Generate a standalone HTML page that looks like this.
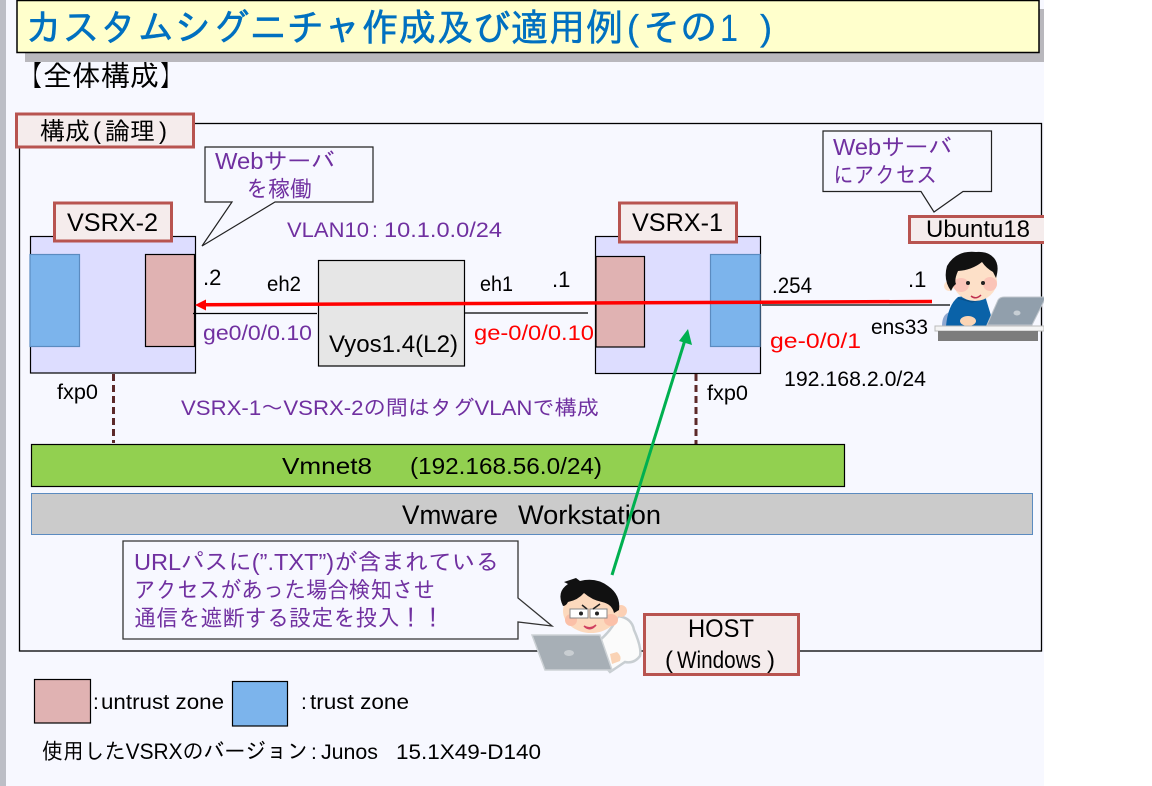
<!DOCTYPE html>
<html><head><meta charset="utf-8"><style>
html,body{margin:0;padding:0;background:#fff;width:1152px;height:786px;overflow:hidden}
svg{display:block}
text{font-family:"Liberation Sans","IPAGothic","Noto Sans CJK JP",sans-serif;fill:#000;font-size:20px;white-space:pre}
.p{fill:#7030a0}.r{fill:#f00}.t{fill:#0070c0;font-size:38px}
</style></head><body>
<svg width="1152" height="786" viewBox="0 0 1152 786" xmlns="http://www.w3.org/2000/svg">
<defs><clipPath id="c"><rect x="0" y="0" width="1044" height="786"/></clipPath></defs>
<g clip-path="url(#c)">
<rect width="1044" height="786" fill="#f7f8ff"/>
<rect width="6" height="786" fill="#bcbec6"/>
<rect x="25" y="9" width="1019" height="53" fill="#b9b8bd"/>
<rect x="17" y="0.5" width="1022" height="52" fill="#ffffcc" stroke="#000" stroke-width="1.5"/>
<text class="t" x="25" y="41" textLength="598" lengthAdjust="spacingAndGlyphs" stroke="#0070c0" stroke-width="0.5">カスタムシグニチャ作成及び適用例</text>
<text class="t" x="627" y="40" style="font-size:36px" stroke="#0070c0" stroke-width="0.3">(</text>
<text class="t" x="643" y="41" textLength="74" lengthAdjust="spacingAndGlyphs" stroke="#0070c0" stroke-width="0.5">その</text>
<text class="t" x="720" y="41" textLength="18" lengthAdjust="spacingAndGlyphs">1</text>
<text class="t" x="760" y="40" style="font-size:36px" stroke="#0070c0" stroke-width="0.3">)</text>
<text x="14" y="86" style="font-size:29px" textLength="174" lengthAdjust="spacingAndGlyphs">【全体構成】</text>

<rect x="19.5" y="123.5" width="1022" height="527.5" fill="#f7f8ff" stroke="#000" stroke-width="1.3"/>
<rect x="16.5" y="114" width="177" height="33" fill="#f5ecec" stroke="#b85450" stroke-width="3"/>
<text x="40" y="140" style="font-size:25px" textLength="50" lengthAdjust="spacingAndGlyphs">構成</text>
<text x="93" y="139" style="font-size:24px">(</text>
<text x="105" y="140" style="font-size:25px" textLength="50" lengthAdjust="spacingAndGlyphs">論理</text>
<text x="159" y="139" style="font-size:24px">)</text>

<path d="M205 147H373V202H275L202 246L232 202H205Z" fill="#f7f8ff" stroke="#222" stroke-width="1.2"/>
<text class="p" x="215" y="169" style="font-size:23px" textLength="120" lengthAdjust="spacingAndGlyphs">Webサーバ</text>
<text class="p" x="246" y="197" style="font-size:23px" textLength="66" lengthAdjust="spacingAndGlyphs">を稼働</text>

<path d="M823 131H991.5V191.5H963L934 212L921 191.5H823Z" fill="#f7f8ff" stroke="#222" stroke-width="1.2"/>
<text class="p" x="833" y="155" style="font-size:23px" textLength="119" lengthAdjust="spacingAndGlyphs">Webサーバ</text>
<text class="p" x="833" y="183" style="font-size:23px" textLength="104" lengthAdjust="spacingAndGlyphs">にアクセス</text>

<!-- VSRX-2 -->
<rect x="30.5" y="236.5" width="165" height="136.5" fill="#ddddff" stroke="#000" stroke-width="1.2"/>
<rect x="30" y="254.5" width="49.5" height="92" fill="#7cb4ec" stroke="#5b8bc0" stroke-width="1.2"/>
<rect x="145.5" y="254.5" width="49" height="92" fill="#e0b2b2" stroke="#000" stroke-width="1.2"/>
<rect x="54.5" y="203" width="117" height="38" fill="#f5ecec" stroke="#b85450" stroke-width="3"/>
<text x="67" y="231" style="font-size:25px" textLength="91" lengthAdjust="spacingAndGlyphs">VSRX-2</text>

<!-- VSRX-1 -->
<rect x="595.5" y="236.5" width="165" height="137" fill="#ddddff" stroke="#000" stroke-width="1.2"/>
<rect x="596" y="256.5" width="48.5" height="90.5" fill="#e0b2b2" stroke="#000" stroke-width="1.2"/>
<rect x="710.5" y="254.5" width="49.5" height="92" fill="#7cb4ec" stroke="#5b8bc0" stroke-width="1.2"/>
<rect x="619.5" y="203" width="117" height="39" fill="#f5ecec" stroke="#b85450" stroke-width="3"/>
<text x="632" y="231" style="font-size:25px" textLength="91" lengthAdjust="spacingAndGlyphs">VSRX-1</text>

<!-- Vyos -->
<rect x="318.5" y="260.5" width="146" height="105.5" fill="#e6e6e6" stroke="#000" stroke-width="1.2"/>
<text x="329" y="352" style="font-size:24px" textLength="129" lengthAdjust="spacingAndGlyphs">Vyos1.4(L2)</text>

<path d="M193 313.5H317M465 313H588M762 305H950" stroke="#000" stroke-width="1.3" fill="none"/>

<path d="M932 301.5L203 304.7" stroke="#f00" stroke-width="3.5" fill="none"/>
<path d="M195 305L206 299.5V310.5Z" fill="#f00"/>

<path d="M113.5 374V443M696 374V444" stroke="#5c2a2a" stroke-width="3" stroke-dasharray="7 4" fill="none"/>

<rect x="31.5" y="444.5" width="813" height="42" fill="#92d050" stroke="#000" stroke-width="1.2"/>
<text x="282" y="474" style="font-size:23px" textLength="90" lengthAdjust="spacingAndGlyphs">Vmnet8</text>
<text x="410" y="474" style="font-size:23px" textLength="192" lengthAdjust="spacingAndGlyphs">(192.168.56.0/24)</text>
<rect x="31.5" y="493.5" width="1001" height="41" fill="#cbcbcb" stroke="#5b8bc0" stroke-width="1"/>
<text x="402" y="524" style="font-size:27px" textLength="96" lengthAdjust="spacingAndGlyphs">Vmware</text>
<text x="518" y="524" style="font-size:27px" textLength="143" lengthAdjust="spacingAndGlyphs">Workstation</text>

<!-- labels -->
<text class="p" x="287" y="237" style="font-size:21px" textLength="82" lengthAdjust="spacingAndGlyphs">VLAN10</text>
<text class="p" x="372" y="237" style="font-size:21px">:</text>
<text class="p" x="384" y="237" style="font-size:21px" textLength="118" lengthAdjust="spacingAndGlyphs">10.1.0.0/24</text>
<text x="203" y="285" style="font-size:22px">.2</text>
<text x="267" y="291" style="font-size:21px" textLength="34" lengthAdjust="spacingAndGlyphs">eh2</text>
<text x="480" y="291" style="font-size:21px" textLength="33" lengthAdjust="spacingAndGlyphs">eh1</text>
<text x="552" y="287" style="font-size:22px">.1</text>
<text x="772" y="293" style="font-size:22px" textLength="40" lengthAdjust="spacingAndGlyphs">.254</text>
<text x="908" y="287" style="font-size:22px">.1</text>
<text x="871" y="334" style="font-size:21px" textLength="57" lengthAdjust="spacingAndGlyphs">ens33</text>
<text class="p" x="203" y="340" style="font-size:21px" textLength="109" lengthAdjust="spacingAndGlyphs">ge0/0/0.10</text>
<text class="r" x="474" y="340" style="font-size:21px" textLength="120" lengthAdjust="spacingAndGlyphs">ge-0/0/0.10</text>
<text class="r" x="770" y="348" style="font-size:21px" textLength="91" lengthAdjust="spacingAndGlyphs">ge-0/0/1</text>
<text x="784" y="386" style="font-size:21px" textLength="142" lengthAdjust="spacingAndGlyphs">192.168.2.0/24</text>
<text x="57" y="399" style="font-size:21px" textLength="41" lengthAdjust="spacingAndGlyphs">fxp0</text>
<text x="707" y="400" style="font-size:21px" textLength="41" lengthAdjust="spacingAndGlyphs">fxp0</text>
<text class="p" x="181" y="415" style="font-size:21px" textLength="418" lengthAdjust="spacingAndGlyphs">VSRX-1～VSRX-2の間はタグVLANで構成</text>

<!-- URL callout -->
<path d="M123 541H518V598L552 626L518 622V639H123Z" fill="#f7f8ff" stroke="#333" stroke-width="1.3"/>
<text class="p" x="134" y="570" style="font-size:23px" textLength="365" lengthAdjust="spacingAndGlyphs">URLパスに(”.TXT”)が含まれている</text>
<text class="p" x="134" y="598" style="font-size:23px" textLength="301" lengthAdjust="spacingAndGlyphs">アクセスがあった場合検知させ</text>
<text class="p" x="134" y="626" style="font-size:23px" textLength="310" lengthAdjust="spacingAndGlyphs">通信を遮断する設定を投入！！</text>

<!-- green arrow -->
<path d="M612 575L685 340" stroke="#00b050" stroke-width="3" fill="none"/>
<path d="M688 329L679 341L692 345Z" fill="#00b050"/>

<!-- Ubuntu person -->
<path d="M942 326Q942 314 950 312L954 326Z" fill="#8fa8d0"/>
<path d="M946 326Q948 305 958 297L972 295L986 299Q990 312 994 326Z" fill="#0a62a8"/>
<path d="M958 298L972 302L986 298" stroke="#084f88" stroke-width="1.2" fill="none"/>
<circle cx="949" cy="286" r="5" fill="#fde0c8"/>
<ellipse cx="975" cy="281" rx="22" ry="20" fill="#fde0c8"/>
<ellipse cx="961" cy="285" rx="8" ry="7" fill="#fbc4b8"/><ellipse cx="990" cy="284" rx="7" ry="7" fill="#fbc4b8"/>
<path d="M951 291Q943 280 947 266Q956 250 976 252Q988 251 994 258Q1000 265 996 278L993 272Q986 268 982 262Q972 270 958 271Q954 280 956 284Q953 286 951 291Z" fill="#111"/>
<circle cx="968" cy="283" r="2" fill="#222"/><circle cx="983" cy="283" r="2" fill="#222"/>
<path d="M971 296Q976 300 981 295" stroke="#c03050" stroke-width="1.5" fill="none"/>
<ellipse cx="968" cy="321" rx="8" ry="5" fill="#fbd5b5"/>
<path d="M987 325L998 300Q1000 297 1004 297H1046L1032 325Z" fill="#919fac" stroke="#c0c6cc" stroke-width="1"/>
<ellipse cx="1017" cy="313" rx="3.5" ry="2.5" fill="#c7ced4"/>
<rect x="935" y="326" width="109" height="5" fill="#f4f4f4" stroke="#bbb" stroke-width="1"/>
<rect x="938" y="331" width="100" height="10" fill="#7c7c7c"/>

<!-- Host person -->
<path d="M600 640Q612 630 618 616Q632 618 634 630Q642 648 640 656Q634 664 625 662L610 672L600 660Z" fill="#fbfbfb" stroke="#c8ced2" stroke-width="2.5"/>
<circle cx="621" cy="611" r="6" fill="#fcd0b5"/>
<ellipse cx="591" cy="611" rx="28" ry="22" fill="#fcd9bd"/>
<ellipse cx="611" cy="620" rx="7" ry="6" fill="#fbc0a8"/><ellipse cx="571" cy="620" rx="6" ry="6" fill="#fbc0a8"/>
<path d="M563 606Q556 592 568 584L564 582L576 578L580 581Q596 577 608 586Q621 595 619 610L614 613Q612 604 602 602Q592 600 584 593Q578 600 568 602Q566 606 563 606Z" fill="#111"/>
<rect x="570" y="609" width="18" height="9" fill="#fff" stroke="#888" stroke-width="1"/><rect x="590" y="609" width="17" height="9" fill="#fff" stroke="#888" stroke-width="1"/>
<circle cx="581" cy="613.5" r="2" fill="#222"/><circle cx="597" cy="613.5" r="2" fill="#222"/>
<path d="M582 605L587 609M600 604L593 609" stroke="#222" stroke-width="1.5"/>
<path d="M584 626Q590 630 596 625Q590 632 584 626Z" fill="#e06070" stroke="#d04060" stroke-width="1.5"/>
<path d="M532 635L600 635L612 670H545Z" fill="#a7afb6" stroke="#cdd2d6" stroke-width="1.5"/>
<ellipse cx="569" cy="653" rx="5" ry="3" fill="#c9ced2"/>
<path d="M610 654L617 652Q622 656 620 661L612 664Z" fill="#fad3b5"/>

<rect x="644.5" y="614.5" width="154" height="60" fill="#f5ecec" stroke="#b85450" stroke-width="3"/>
<text x="688" y="637" style="font-size:25px" textLength="66" lengthAdjust="spacingAndGlyphs">HOST</text>
<text x="665" y="668" style="font-size:24px">(</text>
<text x="677" y="668" style="font-size:24px" textLength="84" lengthAdjust="spacingAndGlyphs">Windows</text>
<text x="767" y="668" style="font-size:24px">)</text>

<rect x="909.5" y="216.5" width="140" height="26" fill="#f5ecec" stroke="#b85450" stroke-width="3"/>
<text x="926" y="237" style="font-size:24px" textLength="104" lengthAdjust="spacingAndGlyphs">Ubuntu18</text>

<!-- legend -->
<rect x="34.5" y="679.5" width="56" height="43.5" fill="#e0b2b2" stroke="#000" stroke-width="1.2"/>
<text x="93" y="709" style="font-size:21px">:</text>
<text x="101" y="709" style="font-size:21px" textLength="123" lengthAdjust="spacingAndGlyphs">untrust zone</text>
<rect x="232.5" y="681.5" width="55" height="44.5" fill="#7cb4ec" stroke="#000" stroke-width="1.2"/>
<text x="301" y="709" style="font-size:21px">:</text>
<text x="310" y="709" style="font-size:21px" textLength="99" lengthAdjust="spacingAndGlyphs">trust zone</text>
<text x="42" y="759" style="font-size:22px" textLength="266" lengthAdjust="spacingAndGlyphs">使用したVSRXのバージョン</text>
<text x="311" y="759" style="font-size:21px">:</text>
<text x="321" y="759" style="font-size:21px" textLength="57" lengthAdjust="spacingAndGlyphs">Junos</text>
<text x="396" y="759" style="font-size:21px" textLength="145" lengthAdjust="spacingAndGlyphs">15.1X49-D140</text>
</g>
</svg>
</body></html>
